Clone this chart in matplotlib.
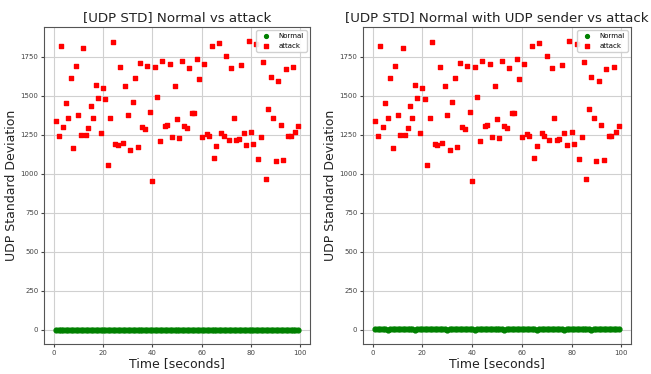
import numpy as np
import matplotlib.pyplot as plt

tiempo = list(range(1, 100))

attack = [1340, 1244, 1820, 1301, 1454, 1359, 1612, 1163, 1690, 1378,
          1248, 1805, 1250, 1293, 1433, 1358, 1569, 1484, 1263, 1552,
          1480, 1054, 1358, 1843, 1193, 1182, 1684, 1199, 1561, 1376,
          1154, 1461, 1612, 1169, 1712, 1297, 1286, 1690, 1393, 956,
          1686, 1493, 1212, 1722, 1307, 1309, 1703, 1237, 1561, 1348,
          1231, 1722, 1307, 1295, 1678, 1390, 1390, 1733, 1605, 1235,
          1703, 1256, 1244, 1818, 1101, 1180, 1839, 1259, 1239, 1752,
          1218, 1678, 1358, 1216, 1222, 1695, 1261, 1186, 1848, 1267,
          1188, 1833, 1093, 1233, 1718, 965, 1414, 1618, 1358, 1084,
          1593, 1312, 1086, 1673, 1239, 1239, 1684, 1265, 1307]

normal = [0] * 99

normal_udp = [2, 4, 1, 5, 3, 0, 4, 6, 2, 3, 5, 1, 4, 3, 6, 2, 0, 5, 3, 4,
              6, 2, 3, 5, 1, 4, 2, 6, 3, 0, 4, 5, 2, 3, 6, 1, 4, 3, 5, 2,
              0, 4, 6, 3, 2, 5, 1, 4, 3, 6, 2, 4, 0, 5, 3, 2, 6, 4, 1, 3,
              5, 2, 4, 6, 3, 0, 4, 2, 5, 3, 6, 1, 4, 2, 5, 3, 0, 4, 6, 2,
              3, 5, 1, 4, 3, 6, 2, 0, 5, 3, 4, 2, 6, 3, 1, 4, 5, 2, 3]

titulos = ['[UDP STD] Normal vs attack',
           '[UDP STD] Normal with UDP sender vs attack']

fig = plt.figure(figsize=(6.51, 3.74), dpi=100)
ax1 = fig.add_axes([44/651, 1 - 344/374, 266/651, 317/374])
ax2 = fig.add_axes([363/651, 1 - 344/374, 268/651, 317/374])

for ax, norm, titulo in [(ax1, normal, titulos[0]), (ax2, normal_udp, titulos[1])]:
    ax.scatter(tiempo, norm, c='green', marker='o', s=12, label='Normal', zorder=3)
    ax.scatter(tiempo, attack, c='red', marker='s', s=10, label='attack', zorder=3)
    ax.set_title(titulo, fontsize=9.6, color='#222222', pad=4)
    ax.set_xlabel('Time [seconds]', fontsize=9, color='#222222', labelpad=1)
    ax.set_ylabel('UDP Standard Deviation', fontsize=9, color='#222222', labelpad=2)
    ax.set_xticks([0, 20, 40, 60, 80, 100])
    ax.set_yticks([0, 250, 500, 750, 1000, 1250, 1500, 1750])
    ax.tick_params(labelsize=5, colors='#444444', length=2, pad=2)
    ax.grid(True, color='#d0d0d0', linewidth=0.8)
    ax.set_axisbelow(True)
    for s in ax.spines.values():
        s.set_color('#555555')
    ax.legend(loc='upper right', fontsize=5, markerscale=0.8, framealpha=0.9)

plt.savefig('out.png', dpi=100)
